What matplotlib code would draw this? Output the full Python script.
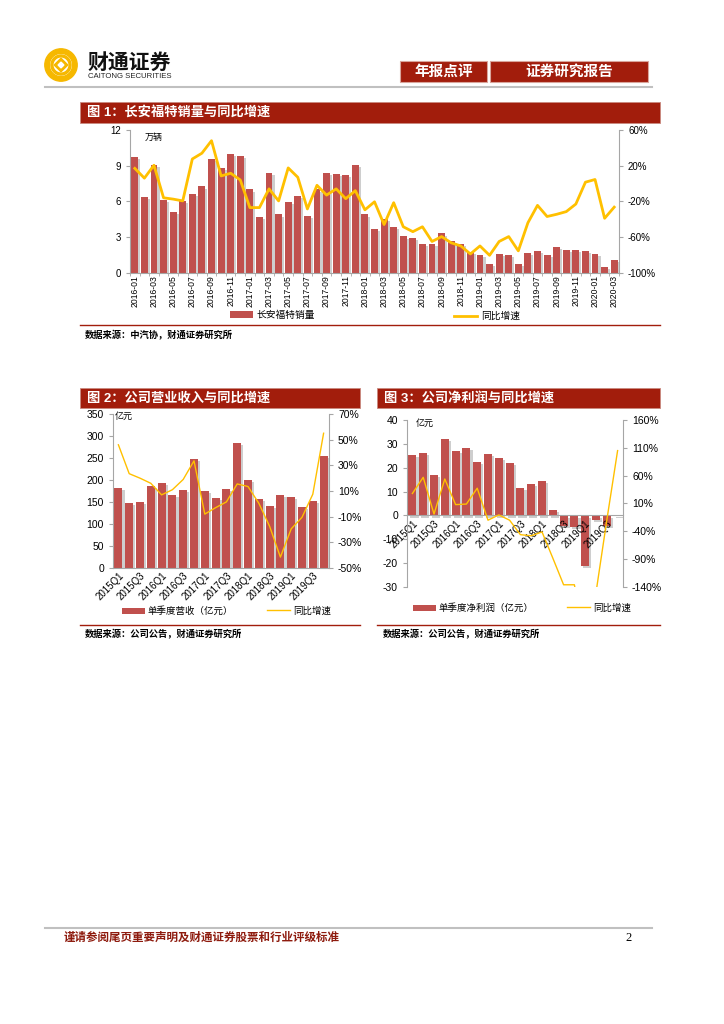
import numpy as np
import matplotlib
matplotlib.use("Agg")
import matplotlib.pyplot as plt
import matplotlib.patheffects as pe
from matplotlib.patches import Rectangle, Patch, Wedge, RegularPolygon
from matplotlib.lines import Line2D
from matplotlib.ticker import FuncFormatter

plt.rcParams["font.family"] = ["Liberation Sans", "Noto Sans CJK SC"]
plt.rcParams["axes.unicode_minus"] = False

# === Data ===
ford_months = [f"{y}-{m:02d}" for y in range(2016, 2020) for m in range(1, 13)] + ["2020-01", "2020-02", "2020-03"]
ford_sales = [9.7, 6.4, 9.05, 6.1, 5.1, 6.05, 6.65, 7.25, 9.6, 8.8, 10.0, 9.85,
              7.0, 4.65, 8.4, 4.9, 5.95, 6.45, 4.75, 7.0, 8.35, 8.3, 8.2, 9.05,
              4.9, 3.7, 4.5, 3.85, 3.05, 2.95, 2.4, 2.4, 3.3, 2.7, 2.4, 1.75,
              1.5, 0.75, 1.6, 1.5, 0.75, 1.65, 1.8, 1.5, 2.15, 1.9, 1.9, 1.8,
              1.55, 0.45, 1.1]
ford_yoy = [17, 6, 20.5, -16, -17.5, -19.5, 27.5, 34, 48, 8.5, 11.5, 4,
            -27, -27, -6, -19.5, 17.5, 7, -28.5, -2, -13, -6, -17, -8,
            -29.5, -20.5, -46, -21.5, -48.5, -54, -48.5, -65, -59.5, -66.5, -70, -79,
            -70, -80.5, -65, -59.5, -75.5, -44, -24.5, -37, -34.5, -31.5, -23, 1.5,
            4.5, -39, -26.5]

quarters = [f"{y}Q{q}" for y in range(2015, 2020) for q in range(1, 5)]
revenue = [181, 148, 150, 186, 194, 165, 177, 248, 175, 159, 180, 285,
           200, 157, 142, 165, 161, 138, 152, 254]
revenue_yoy = [46, 23.5, 20, 16, 7, 11, 19, 33.5, -8, -3, 1.5, 15.5,
               13.5, 0.5, -17.5, -41.5, -19.5, -10.5, 7.5, 55]
profit = [25.2, 26, 16.8, 32.1, 26.9, 28.3, 22.5, 25.6, 24.1, 22.1, 11.6, 13.3,
          14.3, 2.2, -4.5, -4.8, -21.2, -2.0, -4.5, 0.2]
profit_yoy = [28, 57, -9, 54, 8, 9, 37.5, -20, -10.5, -20, -46, -48,
              -41, -88, -136, -136, -250, -150, -20, 105]

# === Style ===
W, H = 724, 1024
RED = "#A21D0C"
BAR = "#C0504D"
GOLD = "#FFC000"
GRAY = "#A6A6A6"
SHADOW = [pe.SimplePatchShadow(offset=(1.5, -1.5), shadow_rgbFace=(0.45, 0.45, 0.45), alpha=0.35), pe.Normal()]
pct = FuncFormatter(lambda v, _: f"{v:.0f}%")


def fx(x):
    return x / W


def fy(y):
    return 1 - y / H


def rect(fig, x0, y0, x1, y1, **kw):
    fig.patches.append(Rectangle((fx(x0), fy(y1)), (x1 - x0) / W, (y1 - y0) / H,
                                 transform=fig.transFigure, **kw))


def hline(fig, x0, x1, y, color, lw):
    fig.add_artist(Line2D([fx(x0), fx(x1)], [fy(y), fy(y)], color=color, lw=lw,
                          transform=fig.transFigure))


def add_axes(fig, x0, y0, x1, y1):
    return fig.add_axes([fx(x0), fy(y1), (x1 - x0) / W, (y1 - y0) / H])


def title_bar(fig, x0, x1, y0, y1, text):
    rect(fig, x0, y0, x1, y1, facecolor=RED, edgecolor="#C98A80", lw=0.6)
    fig.text(fx(x0 + 7), fy((y0 + y1) / 2), text, color="white", fontsize=9.5,
             fontweight="bold", va="center", ha="left")


def legend_item(fig, handle, label, x, y, size=7):
    fig.legend(handles=[handle], labels=[label], loc="center left",
               bbox_to_anchor=(fx(x), fy(y)), frameon=False, fontsize=size,
               handlelength=2.4, handleheight=0.6, handletextpad=0.35,
               borderpad=0, borderaxespad=0)


def style_pair(ax, axr, size):
    for s in ["top", "right"]:
        ax.spines[s].set_visible(False)
    for s in ["top", "left", "bottom"]:
        axr.spines[s].set_visible(False)
    for s in ["left", "bottom"]:
        ax.spines[s].set_color(GRAY)
    axr.spines["right"].set_color(GRAY)
    ax.tick_params(axis="y", colors=GRAY, labelcolor="black", labelsize=size, length=3, width=0.8)
    axr.tick_params(axis="y", colors=GRAY, labelcolor="black", labelsize=size, length=3, width=0.8)
    ax.set_zorder(1)
    axr.set_zorder(2)
    axr.patch.set_visible(False)


def quarter_ticks(ax, size):
    xq = np.arange(len(quarters))
    ax.set_xticks(xq[::2])
    ax.set_xticklabels(quarters[::2], rotation=45, ha="right", rotation_mode="anchor")
    ax.tick_params(axis="x", labelsize=size, length=0, pad=2)


fig = plt.figure(figsize=(7.24, 10.24), dpi=100)

# === Header ===
logo = fig.add_axes([fx(44), fy(82), 34 / W, 34 / H])
logo.set_xlim(-1.05, 1.05)
logo.set_ylim(-1.05, 1.05)
logo.set_aspect("equal")
logo.axis("off")
logo.add_patch(Wedge((0, 0), 1.0, 0, 360, width=0.28, color="#F6B800"))
logo.add_patch(Wedge((0, 0), 0.62, 0, 360, width=0.12, color="#F6B800"))
logo.add_patch(RegularPolygon((0, 0), 4, radius=0.42, color="#F6B800"))
logo.add_patch(RegularPolygon((0, 0), 4, radius=0.18, color="white"))
fig.text(fx(87), fy(63), "财通证券", fontsize=15, fontweight="bold", va="center", color="#111111")
fig.text(fx(88), fy(76), "CAITONG SECURITIES", fontsize=5.6, va="center", color="#222222")

rect(fig, 400, 61, 487, 82, facecolor=RED, edgecolor="#D9A59C", lw=0.8)
rect(fig, 490, 61, 648, 82, facecolor=RED, edgecolor="#D9A59C", lw=0.8)
fig.text(fx(443.5), fy(71.5), "年报点评", color="white", fontsize=10.5, fontweight="bold", ha="center", va="center")
fig.text(fx(569), fy(71.5), "证券研究报告", color="white", fontsize=10.5, fontweight="bold", ha="center", va="center")
hline(fig, 45, 652, 87, "#C0C0C0", 1.5)

# === Chart 1: Changan Ford sales ===
title_bar(fig, 80, 660, 102, 123, "图 1：长安福特销量与同比增速")
ax1 = add_axes(fig, 130, 130, 619, 272.7)
ax1r = ax1.twinx()
x1 = np.arange(len(ford_months))
ax1.bar(x1, ford_sales, width=0.72, color=BAR, path_effects=SHADOW)
ax1r.plot(x1, ford_yoy, color=GOLD, lw=2)
ax1.set_xlim(-0.5, len(ford_months) - 0.5)
ax1.set_ylim(0, 12)
ax1.set_yticks(range(0, 13, 3))
ax1r.set_ylim(-100, 60)
ax1r.set_yticks(range(-100, 61, 40))
ax1r.yaxis.set_major_formatter(pct)
style_pair(ax1, ax1r, 7)
ax1.set_xticks(x1[::2])
ax1.set_xticklabels(ford_months[::2], rotation=90)
ax1.set_xticks(np.arange(-0.5, len(ford_months), 1), minor=True)
ax1.tick_params(axis="x", which="major", length=0, pad=2, labelsize=6.2)
ax1.tick_params(axis="x", which="minor", length=2.5, color=GRAY)
ax1.text(0.031, 0.95, "万辆", transform=ax1.transAxes, fontsize=6.5, va="center")
legend_item(fig, Patch(facecolor=BAR), "长安福特销量", 230, 315)
legend_item(fig, Line2D([], [], color=GOLD, lw=2), "同比增速", 454, 316)
hline(fig, 80, 660, 325, RED, 1)
fig.text(fx(85), fy(335), "数据来源：中汽协，财通证券研究所", fontsize=6.7, fontweight="bold", va="center")

# === Chart 2: revenue ===
title_bar(fig, 80, 360, 388, 408, "图 2：公司营业收入与同比增速")
ax2 = add_axes(fig, 113, 414, 329, 568)
ax2r = ax2.twinx()
xq = np.arange(len(quarters))
ax2.bar(xq, revenue, width=0.75, color=BAR, path_effects=SHADOW)
ax2r.plot(xq, revenue_yoy, color=GOLD, lw=1)
ax2.set_xlim(-0.5, len(quarters) - 0.5)
ax2.set_ylim(0, 350)
ax2.set_yticks(range(0, 351, 50))
ax2r.set_ylim(-50, 70)
ax2r.set_yticks(range(-50, 71, 20))
ax2r.yaxis.set_major_formatter(pct)
style_pair(ax2, ax2r, 7.5)
quarter_ticks(ax2, 7)
ax2.text(0.01, 0.985, "亿元", transform=ax2.transAxes, fontsize=6.5, va="center")
legend_item(fig, Patch(facecolor=BAR), "单季度营收（亿元）", 122, 611, 6.8)
legend_item(fig, Line2D([], [], color=GOLD, lw=1), "同比增速", 267, 611, 6.8)
hline(fig, 80, 360, 625, RED, 1)
fig.text(fx(85), fy(634), "数据来源：公司公告，财通证券研究所", fontsize=6.7, fontweight="bold", va="center")

# === Chart 3: net profit ===
title_bar(fig, 377, 660, 388, 408, "图 3：公司净利润与同比增速")
ax3 = add_axes(fig, 407, 420, 623, 587)
ax3r = ax3.twinx()
ax3.bar(xq, profit, width=0.75, color=BAR, path_effects=SHADOW)
ax3r.plot(xq, profit_yoy, color=GOLD, lw=1)
ax3.set_xlim(-0.5, len(quarters) - 0.5)
ax3.set_ylim(-30, 40)
ax3.set_yticks(range(-30, 41, 10))
ax3r.set_ylim(-140, 160)
ax3r.set_yticks(range(-140, 161, 50))
ax3r.yaxis.set_major_formatter(pct)
style_pair(ax3, ax3r, 7.5)
ax3.spines["bottom"].set_position(("data", 0))
quarter_ticks(ax3, 7)
ax3.text(0.04, 0.98, "亿元", transform=ax3.transAxes, fontsize=6.5, va="center")
legend_item(fig, Patch(facecolor=BAR), "单季度净利润（亿元）", 413, 608, 6.8)
legend_item(fig, Line2D([], [], color=GOLD, lw=1), "同比增速", 567, 608, 6.8)
hline(fig, 377, 660, 625, RED, 1)
fig.text(fx(383), fy(634), "数据来源：公司公告，财通证券研究所", fontsize=6.7, fontweight="bold", va="center")

# === Footer ===
hline(fig, 45, 652, 928, "#C0C0C0", 1.5)
fig.text(fx(64), fy(938), "谨请参阅尾页重要声明及财通证券股票和行业评级标准", fontsize=8.3,
         fontweight="bold", color="#8E1B0E", va="center")
fig.text(fx(629), fy(938), "2", fontsize=9, family="Liberation Serif", va="center", ha="center")

fig.savefig("out.png", dpi=100)
